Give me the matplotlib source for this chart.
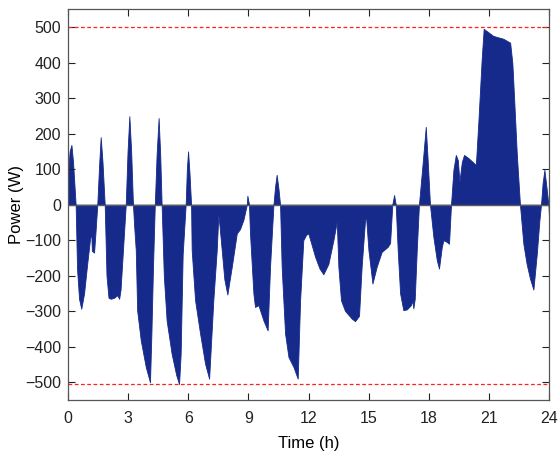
import numpy as np
import matplotlib.pyplot as plt

plt.rcParams['font.family'] = ['Liberation Sans', 'DejaVu Sans']

# Battery power over the day (h, W)
time_h = [0.00, 0.08, 0.17, 0.25, 0.38, 0.45, 0.55, 0.66, 0.80, 0.95, 1.10, 1.16, 1.19, 1.30, 1.38, 1.46,
          1.55, 1.63, 1.72, 1.83, 1.92, 2.02, 2.13, 2.30, 2.46, 2.55, 2.62, 2.75, 2.88,
          2.97, 3.06, 3.15, 3.24, 3.30, 3.38, 3.45, 3.63, 3.88, 4.09, 4.16, 4.24, 4.33,
          4.42, 4.52, 4.60, 4.67, 4.78, 4.92, 5.17, 5.40, 5.54, 5.62, 5.72, 5.87,
          5.93, 5.99, 6.06, 6.14, 6.17, 6.34, 6.59, 6.84, 7.04, 7.25, 7.42, 7.50,
          7.56, 7.67, 7.80, 7.95, 8.17, 8.42, 8.58, 8.75, 8.92, 8.95, 9.03,
          9.08, 9.25, 9.33, 9.50, 9.75, 9.96, 10.08, 10.25, 10.33, 10.41, 10.50, 10.58,
          10.66, 10.83, 11.00, 11.25, 11.46, 11.58, 11.74, 11.88, 11.99,
          12.33, 12.55, 12.74, 12.99, 13.24, 13.41, 13.49, 13.62, 13.82, 14.16, 14.32, 14.52,
          14.65, 14.82, 14.87, 14.99, 15.19, 15.40, 15.65, 15.95, 16.07, 16.18, 16.27, 16.35,
          16.45, 16.57, 16.73, 16.90, 17.11, 17.18, 17.23, 17.30, 17.40, 17.51,
          17.70, 17.85, 17.95, 18.06, 18.23, 18.40, 18.51, 18.65, 18.73, 18.90, 19.01, 19.11,
          19.23, 19.35, 19.45, 19.53, 19.65, 19.76, 19.98, 20.35, 20.48, 20.64, 20.74,
          21.22, 21.72, 22.06, 22.17, 22.27, 22.39, 22.55,
          22.72, 22.88, 23.05, 23.22, 23.39, 23.52, 23.60, 23.68, 23.77, 23.87, 23.97, 24.00]
power_w = [90, 150, 168, 120, 0, -180, -265, -293, -250, -170, -95, -80, -130, -135, -70, 0,
           110, 190, 120, 0, -200, -262, -265, -262, -255, -265, -240, -120, 0,
           150, 249, 150, 0, -60, -128, -298, -382, -457, -500, -363, -175, 0,
           140, 244, 140, 0, -200, -326, -420, -480, -505, -420, -140, 0,
           100, 150, 90, 0, -128, -269, -363, -448, -490, -269, -128, -29,
           -60, -128, -210, -253, -175, -81, -69, -43, 0, 25, 0,
           -81, -250, -288, -283, -326, -354, -175, 0, 50, 84, 45, 0,
           -175, -363, -429, -457, -490, -269, -100, -85, -81,
           -147, -180, -196, -167, -100, -48, -175, -269, -299, -321, -328, -313,
           -175, -43, -34, -128, -222, -175, -133, -119, -108, 0, 27, 0,
           -128, -250, -297, -295, -283, -270, -292, -265, -128, 0,
           120, 219, 120, 0, -91, -156, -180, -119, -100, -105, -110, 0,
           98, 140, 125, 65, 120, 140, 131, 112, 239, 409, 495,
           475, 467, 456, 399, 286, 145, 0,
           -110, -166, -208, -239, -138, -44, 0, 60, 98, 50, 0, -35]

limit_upper = 500
limit_lower = -505

fig = plt.figure(figsize=(5.58, 4.57), dpi=100)
ax = fig.add_axes([0.1219, 0.1247, 0.862, 0.855])

ax.fill_between(time_h, 0, power_w, color='#162A8B', linewidth=0.6, edgecolor='#162A8B')
ax.axhline(0, color='#5a5a5a', linewidth=1.0)
ax.axhline(limit_upper, color='#ff2020', linewidth=0.9, linestyle=(0, (3, 2)))
ax.axhline(limit_lower, color='#ff2020', linewidth=0.9, linestyle=(0, (3, 2)))

ax.set_xlim(0, 24)
ax.set_ylim(-550, 550)
ax.set_xticks(np.arange(0, 25, 3))
ax.set_yticks(np.arange(-500, 501, 100))
ax.tick_params(direction='in', length=5, width=0.8, top=True, right=True,
               labelsize=11.5, colors='#222222')
ax.tick_params(axis='x', pad=8)
ax.tick_params(axis='y', pad=5)
for s in ax.spines.values():
    s.set_color('#555555')
    s.set_linewidth(0.9)

ax.set_xlabel('Time (h)', fontsize=12, labelpad=7)
ax.set_ylabel('Power (W)', fontsize=12, labelpad=1)

fig.savefig('out.png', dpi=100)
